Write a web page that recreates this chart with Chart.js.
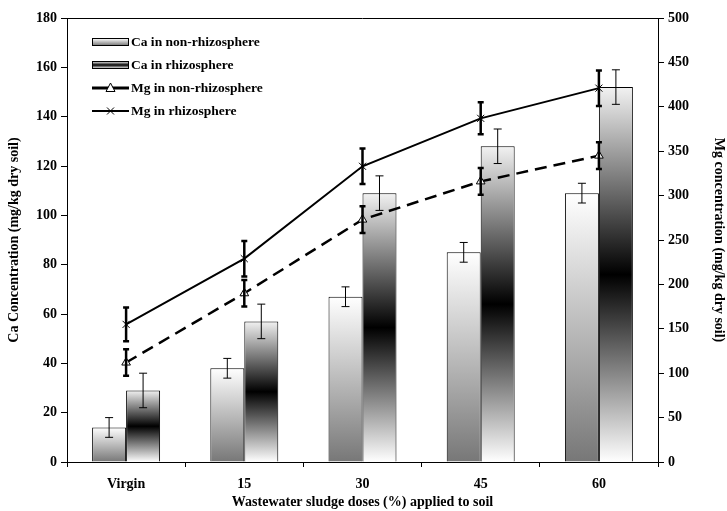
<!DOCTYPE html>
<html>
<head>
<meta charset="utf-8">
<script src="https://cdn.jsdelivr.net/npm/chart.js@4/dist/chart.umd.min.js"></script>
<style>
  html, body { margin: 0; padding: 0; background: #fff; }
  #wrap { position: relative; width: 727px; height: 511px; }
  #legend {
    position: absolute; left: 92px; top: 30px;
    font: bold 13.5px "Liberation Serif", "Times New Roman", serif; color: #000;
  }
  #legend .row { height: 23px; display: flex; align-items: center; }
  #legend svg { margin-right: 2px; }
</style>
</head>
<body>
<div id="wrap">
  <canvas id="chart" width="727" height="511"></canvas>
  <div id="legend"></div>
</div>
<script>
// doses of sludge applied to soil
const doses = ['Virgin', '15', '30', '45', '60'];

// Ca (mg/kg dry soil), left axis
const caNonRhizo = [14, 38, 67, 85, 109];
const caNonRhizoErr = [4, 4, 4, 4, 4];
const caRhizo = [29, 57, 109, 128, 152];
const caRhizoErr = [7, 7, 7, 7, 7];

// Mg (mg/kg dry soil), right axis
const mgNonRhizo = [112, 190, 273, 316, 345];
const mgNonRhizoErr = [15, 15, 15, 15, 15];
const mgRhizo = [155, 229, 333, 387, 421];
const mgRhizoErr = [19, 20, 20, 18, 20];

const serif = '"Liberation Serif", "Times New Roman", serif';
const tickFont = { family: serif, size: 14, weight: 'bold' };

const greyFade = [[0, '#ffffff'], [1, '#777777']];
const darkBand = [[0, '#f2f2f2'], [0.5, '#000000'], [1, '#ffffff']];

// vertical gradient that runs from the top of each bar down to zero
function barFill(stops) {
  return function (ctx) {
    if (ctx.type !== 'data' || !ctx.chart.chartArea) return '#bbbbbb';
    const y = ctx.chart.scales.y;
    const top = y.getPixelForValue(ctx.parsed.y);
    const base = y.getPixelForValue(0);
    const g = ctx.chart.ctx.createLinearGradient(0, top, 0, base);
    stops.forEach(s => g.addColorStop(s[0], s[1]));
    return g;
  };
}

const errorBars = {
  id: 'errorBars',
  afterDatasetDraw(chart, args) {
    const ds = chart.data.datasets[args.index];
    if (!ds.errors) return;
    const scale = chart.scales[ds.yAxisID];
    const c = chart.ctx;
    c.save();
    c.strokeStyle = '#000';
    c.lineWidth = ds.errWidth;
    args.meta.data.forEach((el, i) => {
      const v = ds.data[i], e = ds.errors[i];
      const hi = scale.getPixelForValue(v + e);
      const lo = scale.getPixelForValue(v - e);
      const w = ds.capWidth;
      c.beginPath();
      c.moveTo(el.x, hi); c.lineTo(el.x, lo);
      c.moveTo(el.x - w, hi); c.lineTo(el.x + w, hi);
      c.moveTo(el.x - w, lo); c.lineTo(el.x + w, lo);
      c.stroke();
    });
    c.restore();
  },
  afterDraw(chart) {
    // closing line along the top of the plot
    const a = chart.chartArea, c = chart.ctx;
    c.save();
    c.strokeStyle = '#000';
    c.lineWidth = 1;
    c.beginPath();
    c.moveTo(a.left, a.top + 0.5);
    c.lineTo(a.right, a.top + 0.5);
    c.stroke();
    c.restore();
  }
};

new Chart(document.getElementById('chart'), {
  type: 'bar',
  data: {
    labels: doses,
    datasets: [
      {
        type: 'line', label: 'Mg in non-rhizosphere', data: mgNonRhizo, yAxisID: 'y1',
        errors: mgNonRhizoErr, errWidth: 2.5, capWidth: 3,
        borderColor: '#000', borderWidth: 2.5, borderDash: [12, 7],
        pointStyle: 'triangle', pointRadius: 5, pointBorderWidth: 1,
        pointBackgroundColor: '#fff', pointBorderColor: '#000', order: 0
      },
      {
        type: 'line', label: 'Mg in rhizosphere', data: mgRhizo, yAxisID: 'y1',
        errors: mgRhizoErr, errWidth: 2.5, capWidth: 3,
        borderColor: '#000', borderWidth: 2,
        pointStyle: 'crossRot', pointRadius: 5, pointBorderWidth: 1,
        pointBorderColor: '#000', order: 0
      },
      {
        label: 'Ca in non-rhizosphere', data: caNonRhizo, yAxisID: 'y',
        errors: caNonRhizoErr, errWidth: 1, capWidth: 4,
        backgroundColor: barFill(greyFade), borderColor: '#000', borderWidth: 1,
        borderSkipped: 'bottom', order: 1
      },
      {
        label: 'Ca in rhizosphere', data: caRhizo, yAxisID: 'y',
        errors: caRhizoErr, errWidth: 1, capWidth: 4,
        backgroundColor: barFill(darkBand), borderColor: '#000', borderWidth: 1,
        borderSkipped: 'bottom', order: 1
      }
    ]
  },
  options: {
    responsive: false,
    animation: false,
    datasets: { bar: { categoryPercentage: 0.575, barPercentage: 1 } },
    layout: { padding: { top: 18, left: 0, right: 0, bottom: 0 } },
    plugins: { legend: { display: false }, tooltip: { enabled: false } },
    scales: {
      x: {
        afterFit: s => { s.height = 49; },
        grid: { drawOnChartArea: false, tickLength: 5, color: '#000' },
        border: { color: '#000' },
        ticks: { font: tickFont, color: '#000', padding: 9 },
        title: {
          display: true, text: 'Wastewater sludge doses (%) applied to soil',
          font: tickFont, color: '#000', padding: { top: 0, bottom: 0 }
        }
      },
      y: {
        position: 'left', min: 0, max: 180,
        afterFit: s => { s.width = 67; },
        grid: { drawOnChartArea: false, tickLength: 6, color: '#000' },
        border: { color: '#000' },
        ticks: { stepSize: 20, font: tickFont, color: '#000', padding: 4 },
        title: {
          display: true, text: 'Ca Concentration (mg/kg dry soil)',
          font: tickFont, color: '#000', padding: { top: 6, bottom: 0 }
        }
      },
      y1: {
        position: 'right', min: 0, max: 500,
        afterFit: s => { s.width = 69; },
        grid: { drawOnChartArea: false, tickLength: 6, color: '#000' },
        border: { color: '#000' },
        ticks: { stepSize: 50, font: tickFont, color: '#000', padding: 4 },
        title: {
          display: true, text: 'Mg concentration (mg/kg dry soil)',
          font: tickFont, color: '#000', padding: { top: 0, bottom: 0 }
        }
      }
    }
  },
  plugins: [errorBars]
});

// legend drawn inside the top-left corner of the plot
const legendItems = [
  { text: 'Ca in non-rhizosphere', kind: 'bar', stops: greyFade },
  { text: 'Ca in rhizosphere', kind: 'bar', stops: darkBand },
  { text: 'Mg in non-rhizosphere', kind: 'tri' },
  { text: 'Mg in rhizosphere', kind: 'cross' }
];
const legend = document.getElementById('legend');
legendItems.forEach((item, k) => {
  let sym = '';
  if (item.kind === 'bar') {
    const stops = item.stops.map(s => `<stop offset="${s[0]}" stop-color="${s[1]}"/>`).join('');
    sym = `<defs><linearGradient id="g${k}" x1="0" y1="0" x2="0" y2="1">${stops}</linearGradient></defs>` +
      `<rect x="0.5" y="7.5" width="36" height="7" fill="url(#g${k})" stroke="#000"/>`;
  } else if (item.kind === 'tri') {
    sym = `<line x1="0" y1="11" x2="37" y2="11" stroke="#000" stroke-width="3"/>` +
      `<polygon points="18.5,6 23,14.5 14,14.5" fill="#fff" stroke="#000" stroke-width="1"/>`;
  } else {
    sym = `<line x1="0" y1="11" x2="37" y2="11" stroke="#000" stroke-width="2"/>` +
      `<path d="M15 7.5 L22 14.5 M22 7.5 L15 14.5" stroke="#000" stroke-width="1"/>`;
  }
  const row = document.createElement('div');
  row.className = 'row';
  row.innerHTML = `<svg width="37" height="22">${sym}</svg><span>${item.text}</span>`;
  legend.appendChild(row);
});
</script>
</body>
</html>
